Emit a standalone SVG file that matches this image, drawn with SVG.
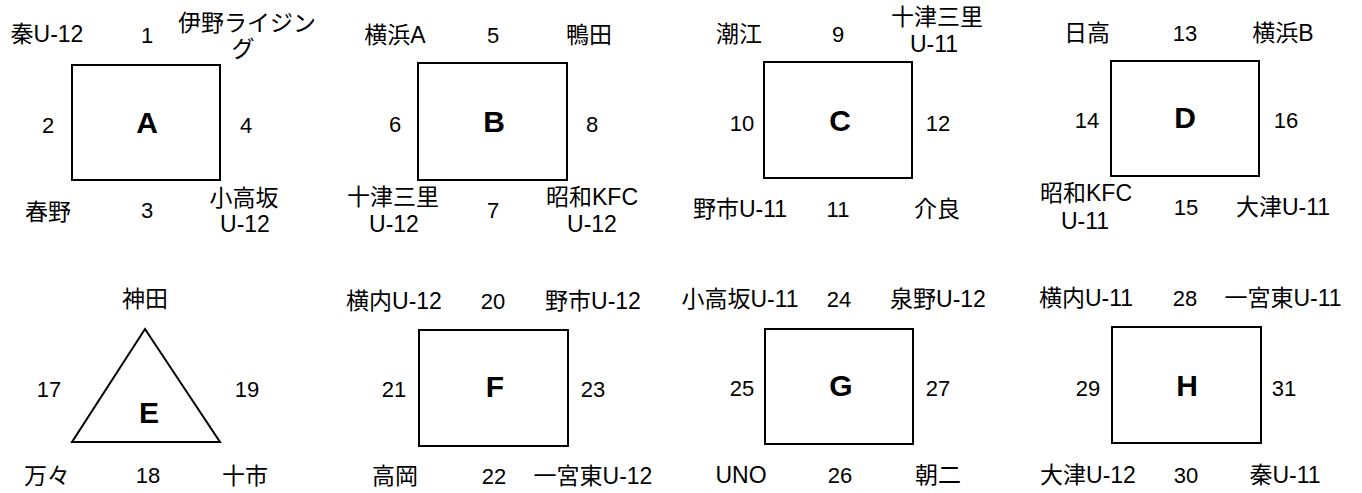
<svg xmlns="http://www.w3.org/2000/svg" width="1362" height="493" viewBox="0 0 1362 493">
<style>
text{font-family:"Liberation Sans","Noto Sans CJK JP",sans-serif;fill:#000;text-anchor:middle}
.n{font-size:23px}
.d{font-size:22px}
.L{font-size:30px;font-weight:bold}
.box{fill:#fff;stroke:#000;stroke-width:2}
</style>
<rect width="1362" height="493" fill="#fff"/>
<g id="connectors"/>
<g id="A">
<rect class="box" x="72" y="65" width="148" height="115"/>
<text class="L" x="147" y="133">A</text>
<text class="n" x="47" y="42">秦U-12</text>
<text class="d" x="147" y="43">1</text>
<text class="n" x="247" y="31">伊野ライジン</text>
<text class="n" x="243" y="57">グ</text>
<text class="d" x="48" y="133">2</text>
<text class="d" x="246" y="133">4</text>
<text class="n" x="48" y="220">春野</text>
<text class="d" x="147" y="218">3</text>
<text class="n" x="244" y="206">小高坂<tspan x="245" dy="26">U-12</tspan></text>
</g>
<g id="B">
<rect class="box" x="418" y="63" width="149" height="117"/>
<text class="L" x="494" y="132">B</text>
<text class="n" x="395" y="43">横浜A</text>
<text class="d" x="493" y="43">5</text>
<text class="n" x="589" y="43">鴨田</text>
<text class="d" x="395" y="132">6</text>
<text class="d" x="592" y="132">8</text>
<text class="n" x="393" y="205">十津三里<tspan x="394" dy="27">U-12</tspan></text>
<text class="d" x="493" y="218">7</text>
<text class="n" x="592" y="205">昭和KFC<tspan x="592" dy="27">U-12</tspan></text>
</g>
<g id="C">
<rect class="box" x="764" y="62" width="148" height="116"/>
<text class="L" x="840" y="131">C</text>
<text class="n" x="739" y="42">潮江</text>
<text class="d" x="838" y="42">9</text>
<text class="n" x="937" y="25">十津三里<tspan x="934" dy="27">U-11</tspan></text>
<text class="d" x="742" y="131">10</text>
<text class="d" x="938" y="131">12</text>
<text class="n" x="740" y="217">野市U-11</text>
<text class="d" x="838" y="217">11</text>
<text class="n" x="937" y="217">介良</text>
</g>
<g id="D">
<rect class="box" x="1111" y="61" width="148" height="115"/>
<text class="L" x="1185" y="128">D</text>
<text class="n" x="1087" y="41">日高</text>
<text class="d" x="1185" y="41">13</text>
<text class="n" x="1283" y="41">横浜B</text>
<text class="d" x="1087" y="128">14</text>
<text class="d" x="1286" y="128">16</text>
<text class="n" x="1086" y="201">昭和KFC<tspan x="1085" dy="28">U-11</tspan></text>
<text class="d" x="1186" y="215">15</text>
<text class="n" x="1283" y="215">大津U-11</text>
</g>
<g id="E">
<polygon class="box" points="145,329 72,442 220,442"/>
<text class="L" x="149" y="423">E</text>
<text class="n" x="145" y="307">神田</text>
<text class="d" x="49" y="397">17</text>
<text class="d" x="247" y="397">19</text>
<text class="n" x="47" y="484">万々</text>
<text class="d" x="148" y="483">18</text>
<text class="n" x="245" y="484">十市</text>
</g>
<g id="F">
<rect class="box" x="419" y="330" width="149" height="116"/>
<text class="L" x="495" y="397">F</text>
<text class="n" x="394" y="309">横内U-12</text>
<text class="d" x="493" y="309">20</text>
<text class="n" x="593" y="309">野市U-12</text>
<text class="d" x="394" y="397">21</text>
<text class="d" x="593" y="397">23</text>
<text class="n" x="395" y="484">高岡</text>
<text class="d" x="494" y="484">22</text>
<text class="n" x="593" y="484">一宮東U-12</text>
</g>
<g id="G">
<rect class="box" x="765" y="329" width="148" height="115"/>
<text class="L" x="841" y="396">G</text>
<text class="n" x="740" y="307">小高坂U-11</text>
<text class="d" x="839" y="307">24</text>
<text class="n" x="938" y="307">泉野U-12</text>
<text class="d" x="742" y="396">25</text>
<text class="d" x="938" y="396">27</text>
<text class="n" x="741" y="483">UNO</text>
<text class="d" x="840" y="483">26</text>
<text class="n" x="938" y="483">朝二</text>
</g>
<g id="H">
<rect class="box" x="1112" y="327" width="149" height="116"/>
<text class="L" x="1187" y="396">H</text>
<text class="n" x="1086" y="306">横内U-11</text>
<text class="d" x="1185" y="306">28</text>
<text class="n" x="1283" y="306">一宮東U-11</text>
<text class="d" x="1088" y="396">29</text>
<text class="d" x="1284" y="396">31</text>
<text class="n" x="1088" y="483">大津U-12</text>
<text class="d" x="1186" y="483">30</text>
<text class="n" x="1285" y="483">秦U-11</text>
</g>
</svg>
